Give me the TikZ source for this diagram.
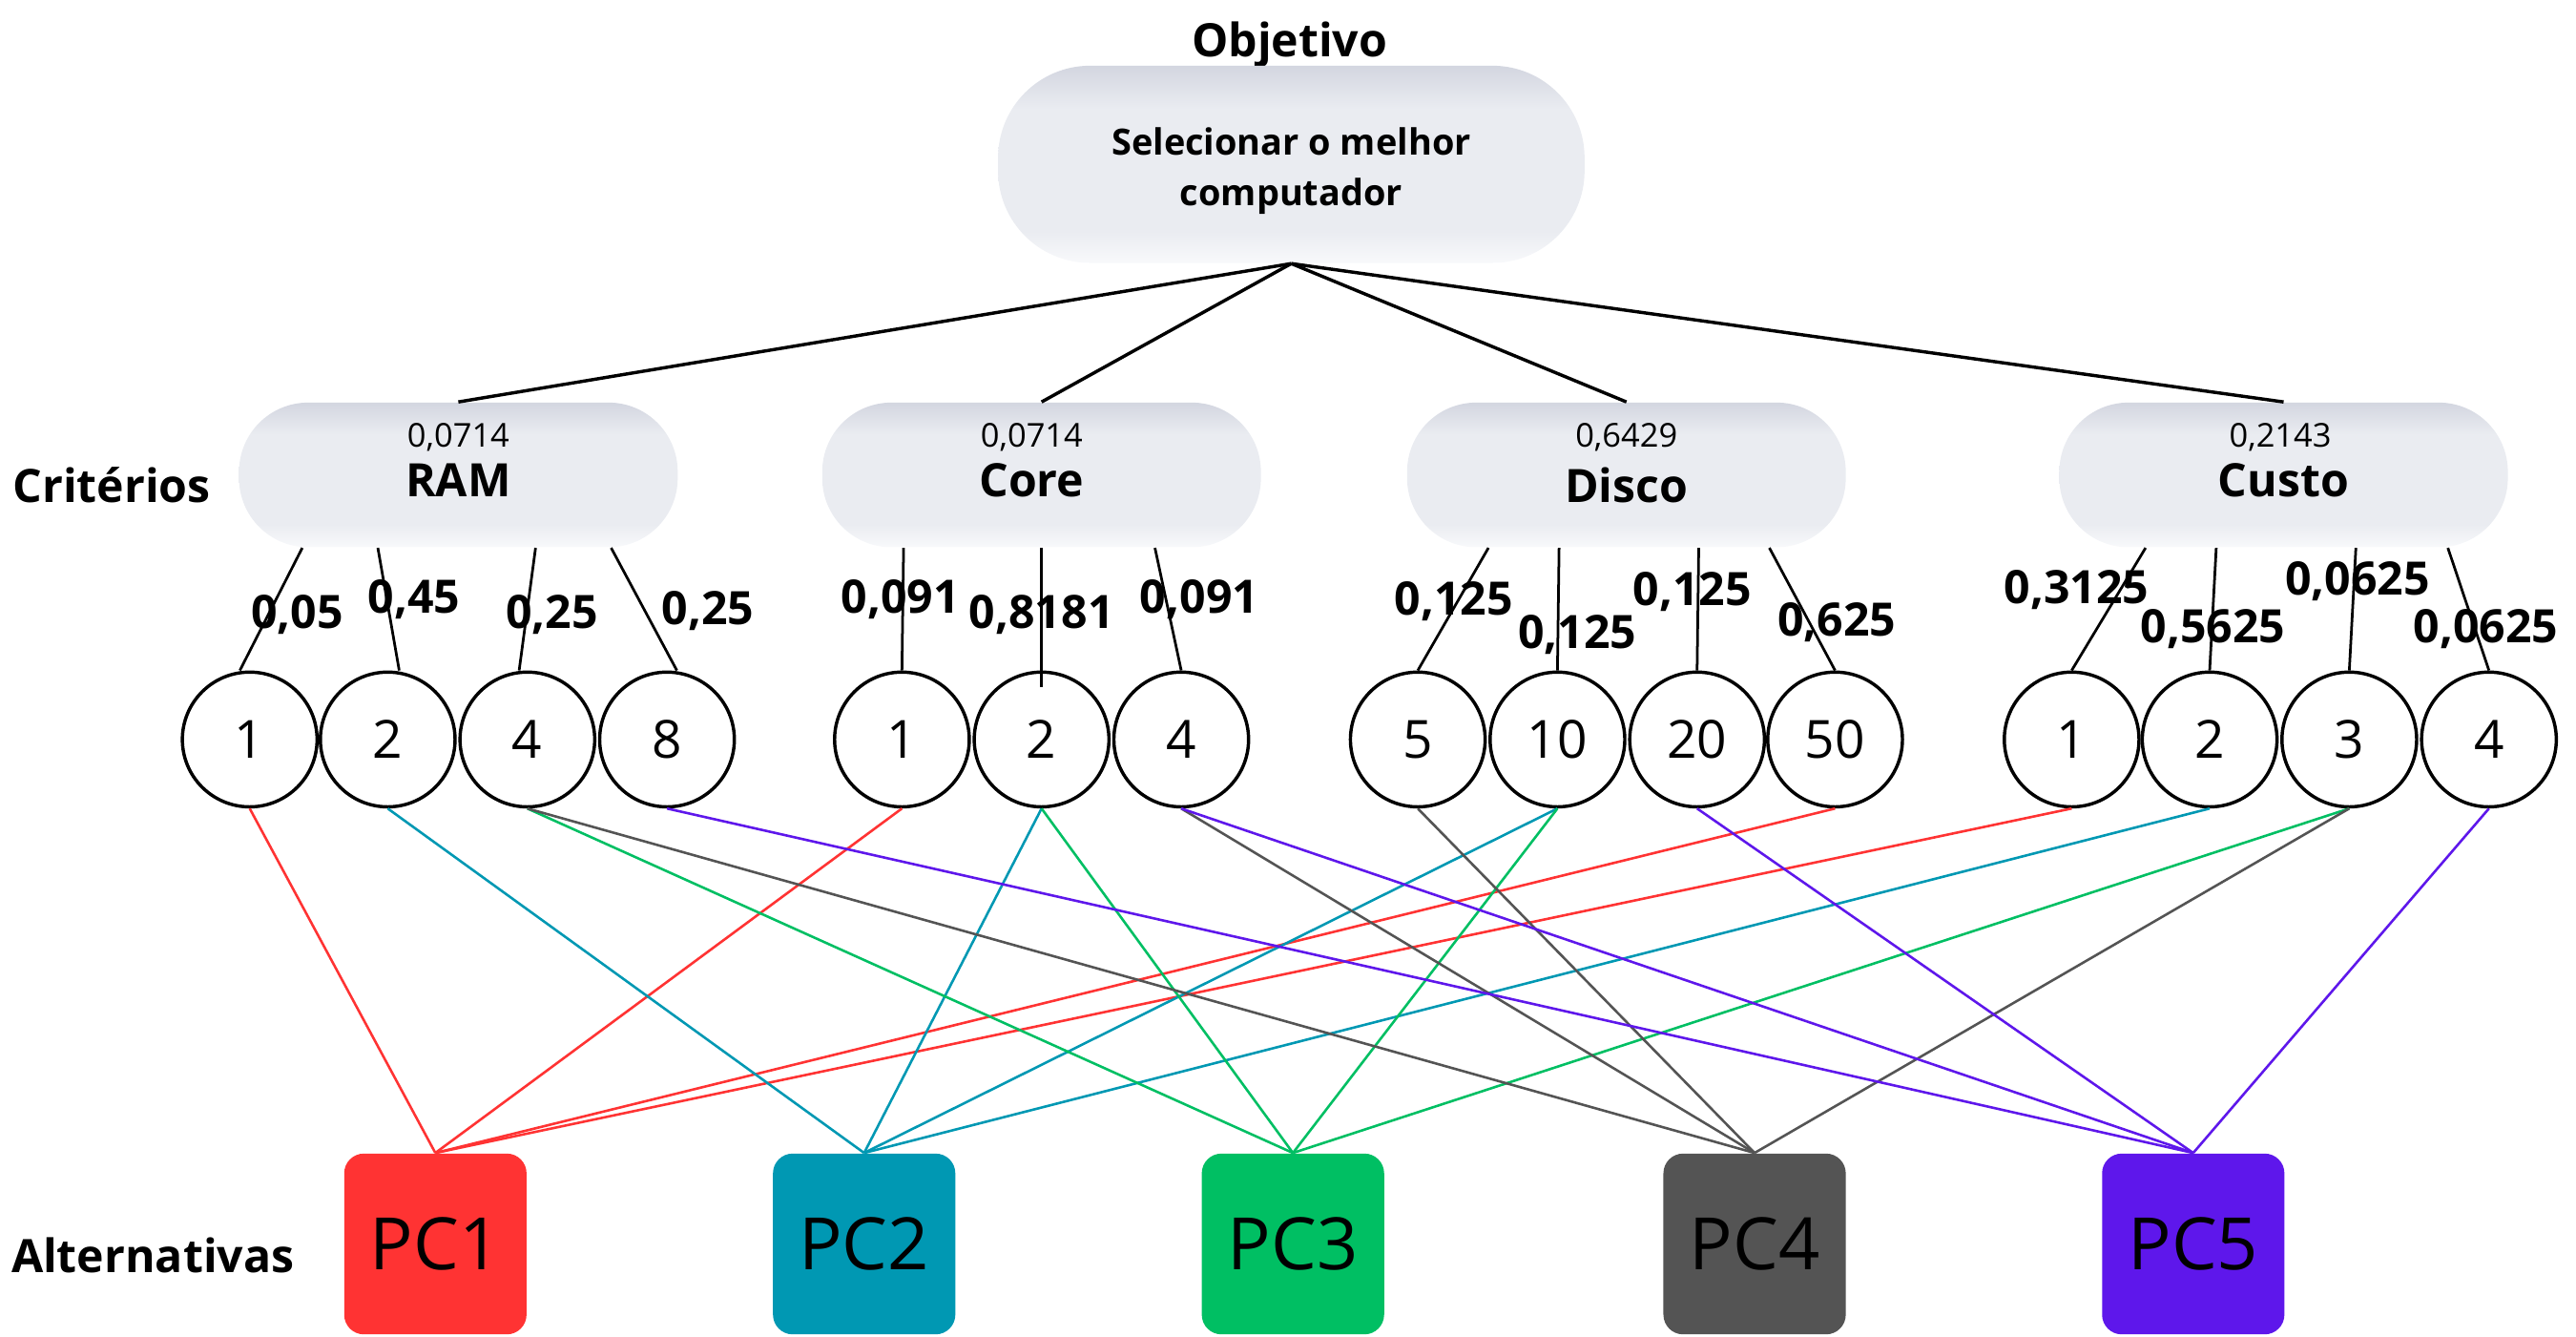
\documentclass[tikz,border=0pt]{standalone}
\usepackage{fontspec}
\setmainfont{Open Sans}
\usetikzlibrary{calc}
\definecolor{pcred}{HTML}{FF3333}
\definecolor{pcteal}{HTML}{0098B3}
\definecolor{pcgreen}{HTML}{00BF63}
\definecolor{pcgrey}{HTML}{545454}
\definecolor{pcpurple}{HTML}{5E17EB}
\definecolor{pilltop}{HTML}{D3D6E0}
\definecolor{pillmid}{HTML}{EAECF1}
\definecolor{pillbot}{HTML}{F8F9FB}
\pgfdeclareverticalshading{pillshade}{100bp}{color(0bp)=(pillbot); color(25bp)=(pillbot); color(33bp)=(pillmid); color(64bp)=(pillmid); color(75bp)=(pilltop); color(100bp)=(pilltop)}
\begin{document}
\begin{tikzpicture}[x=0.5pt,y=-0.5pt,
  pill/.style={rounded corners=21pt, minimum width=133.5pt, minimum height=44pt,
    shading=pillshade, inner sep=0pt},
  toppill/.style={pill, rounded corners=28pt, minimum width=178.5pt, minimum height=60pt},
  crit/.style={draw, circle, line width=1pt, minimum size=41pt, inner sep=0pt,
    font=\fontsize{16}{18}\selectfont},
  pcbox/.style={rounded corners=6pt, minimum width=55.5pt, minimum height=55pt,
    font=\fontsize{22}{24}\selectfont},
  lab/.style={font=\bfseries\fontsize{14}{16}\selectfont},
  wl/.style={font=\bfseries\fontsize{14}{16}\selectfont},
  small/.style={font=\fontsize{10}{12}\selectfont},
  topline/.style={line width=1pt},
  subline/.style={line width=0.8pt},
  cl/.style={line width=0.75pt}]
\useasboundingbox (0,0) rectangle (1568,813.6);

% objective
\node[lab] (objlab) at (785,27) {Objetivo};
\node[toppill] (obj) at (786,100) {};
\node[font=\bfseries\fontsize{11}{15.5}\selectfont, align=center] (objtxt) at (786,104) {Selecionar o melhor\\computador};

% criteria
\node[lab] (critlab) at (68,295) {Critérios};
\node[pill] (ram) at (279,289) {};
\node[pill] (core) at (634,289) {};
\node[pill] (disco) at (990,289) {};
\node[pill, minimum width=136.5pt] (custo) at (1390,289) {};
\node[small] (ramw) at (279,266) {0,0714};
\node[lab] (ramn) at (279,292) {RAM};
\node[small] (corew) at (628,266) {0,0714};
\node[lab] (coren) at (628,292) {Core};
\node[small] (discow) at (990,266) {0,6429};
\node[lab] (discon) at (990,295) {Disco};
\node[small] (custow) at (1388,266) {0,2143};
\node[lab] (custon) at (1390,292) {Custo};

\draw[topline] (obj.south) -- (ram.north);
\draw[topline] (obj.south) -- (core.north);
\draw[topline] (obj.south) -- (disco.north);
\draw[topline] (obj.south) -- (custo.north);

% circles
\node[crit] (r1) at (152,450) {1};
\node[crit] (r2) at (236,450) {2};
\node[crit] (r4) at (321,450) {4};
\node[crit] (r8) at (406,450) {8};
\node[crit] (c1) at (549,450) {1};
\node[crit] (c2) at (634,450) {2};
\node[crit] (c4) at (719,450) {4};
\node[crit] (d5) at (863,450) {5};
\node[crit] (d10) at (948,450) {10};
\node[crit] (d20) at (1033,450) {20};
\node[crit] (d50) at (1117,450) {50};
\node[crit] (k1) at (1261,450) {1};
\node[crit] (k2) at (1345,450) {2};
\node[crit] (k3) at (1430,450) {3};
\node[crit] (k4) at (1515,450) {4};

% sub lines
\draw[subline] ($(ram.south)+(-95,0)$) -- ([xshift=-3pt]r1.north);
\draw[subline] ($(ram.south)+(-49,0)$) -- ([xshift=3.5pt]r2.north);
\draw[subline] ($(ram.south)+(47,0)$) -- ([xshift=-2.5pt]r4.north);
\draw[subline] ($(ram.south)+(93,0)$) -- ([xshift=3pt]r8.north);
\draw[subline] ($(core.south)+(-84,0)$) -- (c1.north);
\draw[subline] ($(core.south)+(0,0)$) -- ($(c2.north)+(0,10)$);
\draw[subline] ($(core.south)+(69,0)$) -- (c4.north);
\draw[subline] ($(disco.south)+(-84,0)$) -- (d5.north);
\draw[subline] ($(disco.south)+(-41,0)$) -- (d10.north);
\draw[subline] ($(disco.south)+(44,0)$) -- (d20.north);
\draw[subline] ($(disco.south)+(87,0)$) -- (d50.north);
\draw[subline] ($(custo.south)+(-84,0)$) -- (k1.north);
\draw[subline] ($(custo.south)+(-41,0)$) -- (k2.north);
\draw[subline] ($(custo.south)+(44,0)$) -- (k3.north);
\draw[subline] ($(custo.south)+(100,0)$) -- (k4.north);

% weights
\node[wl] (w1) at (181,374) {0,05};
\node[wl] (w2) at (252,365) {0,45};
\node[wl] (w3) at (336,374) {0,25};
\node[wl] (w4) at (431,372) {0,25};
\node[wl] (w5) at (548,365) {0,091};
\node[wl] (w6) at (634,374) {0,8181};
\node[wl] (w7) at (730,365) {0,091};
\node[wl] (w8) at (885,366) {0,125};
\node[wl] (w9) at (960,386) {0,125};
\node[wl] (w10) at (1030,360) {0,125};
\node[wl] (w11) at (1118,379) {0,625};
\node[wl] (w12) at (1264,359) {0,3125};
\node[wl] (w13) at (1347,383) {0,5625};
\node[wl] (w14) at (1435,354) {0,0625};
\node[wl] (w15) at (1513,383) {0,0625};

% alternatives
\node[lab] (altlab) at (93,764) {Alternativas};
\node[pcbox, fill=pcred] (pc1) at (265,757) {PC1};
\node[pcbox, fill=pcteal] (pc2) at (526,757) {PC2};
\node[pcbox, fill=pcgreen] (pc3) at (787,757) {PC3};
\node[pcbox, fill=pcgrey] (pc4) at (1068,757) {PC4};
\node[pcbox, fill=pcpurple] (pc5) at (1335,757) {PC5};

% colored connectors
\foreach \s in {r1,c1,d50,k1} \draw[cl, pcred] (\s.south) -- (pc1.north);
\foreach \s in {r2,c2,d10,k2} \draw[cl, pcteal] (\s.south) -- (pc2.north);
\foreach \s in {r4,c2,d10,k3} \draw[cl, pcgreen] (\s.south) -- (pc3.north);
\foreach \s in {r4,c4,d5,k3} \draw[cl, pcgrey] (\s.south) -- (pc4.north);
\foreach \s in {r8,c4,d20,k4} \draw[cl, pcpurple] (\s.south) -- (pc5.north);
\end{tikzpicture}
\end{document}
